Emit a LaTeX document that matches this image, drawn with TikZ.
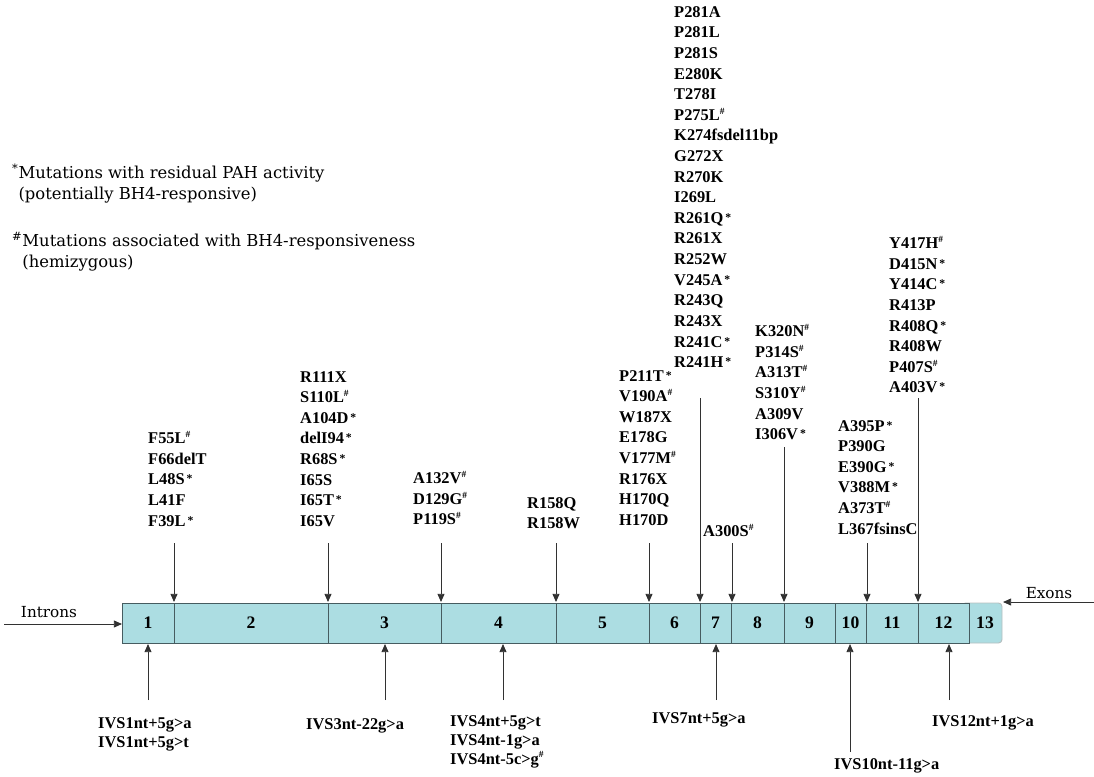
\documentclass[tikz,border=0pt]{standalone}
\usepackage{fontspec}
\setmainfont{Liberation Serif}
\newfontfamily\legendfamily{DejaVu Serif}
\usetikzlibrary{arrows.meta}
\definecolor{exonfill}{RGB}{172,221,226}
\definecolor{exonline}{RGB}{70,92,96}
\definecolor{arrowgray}{RGB}{50,50,50}
\newcommand{\resid}{\raisebox{0.12em}{\fontsize{10}{10}\selectfont\,*}}
\newcommand{\bhfour}{\raisebox{0.38em}{\fontsize{8}{8}\selectfont\#}}

\begin{document}
\begin{tikzpicture}[
  x=0.03cm, y=-0.03cm,
  mutlist/.style={font=\fontsize{14}{17.6}\selectfont\bfseries, align=left, inner sep=0pt, anchor=north west},
  ivslabel/.style={font=\fontsize{14}{16.2}\selectfont\bfseries, align=left, inner sep=0pt, anchor=north west},
  legend/.style={font=\legendfamily\fontsize{14}{18}\selectfont, align=left, inner sep=0pt, anchor=north west},
  sidelabel/.style={font=\legendfamily\fontsize{13}{15}\selectfont, inner sep=0pt},
  exonbox/.style={draw=exonline, fill=exonfill, line width=0.8pt},
  exnum/.style={font=\fontsize{15}{15}\selectfont\bfseries, inner sep=0pt},
  pointer/.style={-{Triangle[length=7pt,width=6pt]}, arrowgray, line width=0.8pt}
]
  \useasboundingbox (0,0) rectangle (1094,776);

  %% Legend
  \node[legend] (legres) at (12,164) {\textsuperscript{*}Mutations with residual PAH activity\\
    \phantom{\textsuperscript{*}}(potentially BH4-responsive)};
  \node[legend] (legbh) at (12,232) {\textsuperscript{\#}Mutations associated with BH4-responsiveness\\
    \phantom{\textsuperscript{\#}}(hemizygous)};

  %% Gene: exon 13 first (rounded end), then exons 1-12
  \draw[fill=exonfill, draw=exonline!40, line width=0.8pt, rounded corners=3pt] (962,603) rectangle (1002,643);
  \foreach \xa/\xb/\n in {122/174/1, 174/328/2, 328/441/3, 441/556/4, 556/649/5, 649/700/6,
                          700/731/7, 731/784/8, 784/835/9, 835/866/10, 866/918/11, 918/969/12} {
    \draw[exonbox] (\xa,603) rectangle (\xb,643);
    \node[exnum] (ex\n) at ({(\xa+\xb)/2},623) {\n};
  }
  \node[exnum] (ex13) at (985,623) {13};

  %% Introns / Exons
  \node[sidelabel] (introns) at (49,612) {Introns};
  \coordinate (intronstart) at (4,624);
  \coordinate (intronend) at (122,624);
  \draw[pointer] (intronstart) -- (intronend);
  \node[sidelabel] (exons) at (1049,593) {Exons};
  \coordinate (exonstart) at (1094,602);
  \coordinate (exonend) at (1003,602);
  \draw[pointer] (exonstart) -- (exonend);

  %% Mutations in exons (above)
  \node[mutlist] (mutA) at (148,431) {F55L\bhfour\\F66delT\\L48S\resid\\L41F\\F39L\resid};
  \node[mutlist] (mutB) at (300,371) {R111X\\S110L\bhfour\\A104D\resid\\delI94\resid\\R68S\resid\\I65S\\I65T\resid\\I65V};
  \node[mutlist] (mutC) at (413,471) {A132V\bhfour\\D129G\bhfour\\P119S\bhfour};
  \node[mutlist] (mutD) at (527,497) {R158Q\\R158W};
  \node[mutlist] (mutE) at (619,370) {P211T\resid\\V190A\bhfour\\W187X\\E178G\\V177M\bhfour\\R176X\\H170Q\\H170D};
  \node[mutlist] (mutF) at (674,6) {P281A\\P281L\\P281S\\E280K\\T278I\\P275L\bhfour\\K274fsdel11bp\\G272X\\R270K\\I269L\\
    R261Q\resid\\R261X\\R252W\\V245A\resid\\R243Q\\R243X\\R241C\resid\\R241H\resid};
  \node[mutlist] (mutG) at (703,524) {A300S\bhfour};
  \node[mutlist] (mutH) at (755,324) {K320N\bhfour\\P314S\bhfour\\A313T\bhfour\\S310Y\bhfour\\A309V\\I306V\resid};
  \node[mutlist] (mutI) at (838,420) {A395P\resid\\P390G\\E390G\resid\\V388M\resid\\A373T\bhfour\\L367fsinsC};
  \node[mutlist] (mutJ) at (889,236) {Y417H\bhfour\\D415N\resid\\Y414C\resid\\R413P\\R408Q\resid\\R408W\\P407S\bhfour\\A403V\resid};

  %% Arrow ends on the gene
  \coordinate (srcA) at (174,543); \coordinate (tipA) at (174,602);
  \coordinate (srcB) at (328,543); \coordinate (tipB) at (328,602);
  \coordinate (srcC) at (441,543); \coordinate (tipC) at (441,602);
  \coordinate (srcD) at (556,543); \coordinate (tipD) at (556,602);
  \coordinate (srcE) at (649,543); \coordinate (tipE) at (649,602);
  \coordinate (srcF) at (700,398); \coordinate (tipF) at (700,602);
  \coordinate (srcG) at (732,543); \coordinate (tipG) at (732,602);
  \coordinate (srcH) at (784,447); \coordinate (tipH) at (784,602);
  \coordinate (srcI) at (867,543); \coordinate (tipI) at (867,602);
  \coordinate (srcJ) at (918,398); \coordinate (tipJ) at (918,602);

  \draw[pointer] (srcA) -- (tipA); \draw[pointer] (srcB) -- (tipB);
  \draw[pointer] (srcC) -- (tipC); \draw[pointer] (srcD) -- (tipD);
  \draw[pointer] (srcE) -- (tipE); \draw[pointer] (srcF) -- (tipF);
  \draw[pointer] (srcG) -- (tipG); \draw[pointer] (srcH) -- (tipH);
  \draw[pointer] (srcI) -- (tipI); \draw[pointer] (srcJ) -- (tipJ);

  %% Splice mutations in introns (below)
  \node[ivslabel] (ivsA) at (98,717) {IVS1nt+5g>a\\IVS1nt+5g>t};
  \node[ivslabel] (ivsB) at (306,718) {IVS3nt-22g>a};
  \node[ivslabel] (ivsC) at (450,715) {IVS4nt+5g>t\\IVS4nt-1g>a\\IVS4nt-5c>g\bhfour};
  \node[ivslabel] (ivsD) at (652,712) {IVS7nt+5g>a};
  \node[ivslabel] (ivsE) at (834,758) {IVS10nt-11g>a};
  \node[ivslabel] (ivsF) at (932,715) {IVS12nt+1g>a};

  \coordinate (lowA) at (148,700); \coordinate (upA) at (148,644);
  \coordinate (lowB) at (385,700); \coordinate (upB) at (385,644);
  \coordinate (lowC) at (503,700); \coordinate (upC) at (503,644);
  \coordinate (lowD) at (716,700); \coordinate (upD) at (716,644);
  \coordinate (lowE) at (850,752); \coordinate (upE) at (850,644);
  \coordinate (lowF) at (949,700); \coordinate (upF) at (949,644);

  \draw[pointer] (lowA) -- (upA); \draw[pointer] (lowB) -- (upB);
  \draw[pointer] (lowC) -- (upC); \draw[pointer] (lowD) -- (upD);
  \draw[pointer] (lowE) -- (upE); \draw[pointer] (lowF) -- (upF);
\end{tikzpicture}
\end{document}
